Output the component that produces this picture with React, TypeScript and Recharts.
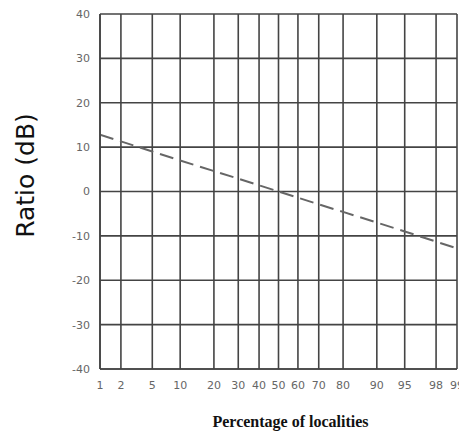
import { LineChart, Line, XAxis, YAxis, CartesianGrid } from 'recharts';

const PERCENTS = [1, 2, 5, 10, 20, 30, 40, 50, 60, 70, 80, 90, 95, 98, 99];
const RATIO_DB = [12.8, 11.3, 9.0, 7.0, 4.6, 2.9, 1.4, 0, -1.4, -2.9, -4.6, -7.0, -9.0, -11.3, -12.8];
const X_TICK_LABELS = PERCENTS;
const Y_TICKS = [-40, -30, -20, -10, 0, 10, 20, 30, 40];

// inverse normal cdf (Acklam) -> normal probability paper x position
const probit = (p: number) => {
  const a = [-39.69683028665376, 220.9460984245205, -275.9285104469687, 138.357751867269, -30.66479806614716, 2.506628277459239];
  const b = [-54.47609879822406, 161.5858368580409, -155.6989798598866, 66.80131188771972, -13.28068155288572];
  const c = [-0.007784894002430293, -0.3223964580411365, -2.400758277161838, -2.549732539343734, 4.374664141464968, 2.938163982698783];
  const d = [0.007784695709041462, 0.3224671290700398, 2.445134137142996, 3.754408661907416];
  const lo = 0.02425;
  if (p < lo) {
    const q = Math.sqrt(-2 * Math.log(p));
    return (((((c[0] * q + c[1]) * q + c[2]) * q + c[3]) * q + c[4]) * q + c[5]) /
      ((((d[0] * q + d[1]) * q + d[2]) * q + d[3]) * q + 1);
  }
  if (p > 1 - lo) return -probit(1 - p);
  const q = p - 0.5;
  const r = q * q;
  return (((((a[0] * r + a[1]) * r + a[2]) * r + a[3]) * r + a[4]) * r + a[5]) * q /
    (((((b[0] * r + b[1]) * r + b[2]) * r + b[3]) * r + b[4]) * r + 1);
};

const data = PERCENTS.map((p, i) => ({ z: probit(p / 100), ratio: RATIO_DB[i] }));
const xTicks = X_TICK_LABELS.map((p) => probit(p / 100));
const labelOf = (z: number) => {
  const i = xTicks.findIndex((t) => Math.abs(t - z) < 1e-6);
  return i >= 0 ? String(X_TICK_LABELS[i]) : '';
};

const GRID = '#444';
const TICK = { fill: '#666', fontSize: 11, fontFamily: 'DejaVu Sans' };

export default function App() {
  return (
    <div style={{ position: 'absolute', left: 0, top: 0, background: '#fff' }}>
      <LineChart
        width={459}
        height={435}
        data={data}
        margin={{ top: 14, right: 2, left: 0, bottom: 0 }}
      >
        <CartesianGrid stroke={GRID} strokeWidth={1.6} />
        <XAxis
          dataKey="z"
          type="number"
          domain={[xTicks[0], xTicks[xTicks.length - 1]]}
          ticks={xTicks}
          interval={0}
          tickFormatter={labelOf}
          tick={TICK}
          tickLine={false}
          axisLine={{ stroke: GRID, strokeWidth: 1.6 }}
          tickMargin={6}
          height={66}
          allowDataOverflow
          label={{
            content: ({ viewBox }: any) => (
              <text
                x={viewBox.x + viewBox.width / 2 + 12}
                y={viewBox.y + 52}
                textAnchor="middle"
                dominantBaseline="central"
                style={{ fontFamily: 'Liberation Serif', fontWeight: 'bold', fontSize: 16, fill: '#111' }}
              >
                Percentage of localities
              </text>
            ),
          }}
        />
        <YAxis
          type="number"
          domain={[-40, 40]}
          ticks={Y_TICKS}
          interval={0}
          tick={TICK}
          tickLine={false}
          axisLine={{ stroke: GRID, strokeWidth: 1.6 }}
          tickMargin={4}
          width={100}
          label={{
            content: ({ viewBox }: any) => {
              const cx = viewBox.x + 25;
              const cy = viewBox.y + viewBox.height / 2 - 16;
              return (
                <text
                  x={cx}
                  y={cy}
                  transform={`rotate(-90, ${cx}, ${cy})`}
                  textAnchor="middle"
                  dominantBaseline="central"
                  style={{ fontFamily: 'DejaVu Sans', fontSize: 25, fill: '#111' }}
                >
                  Ratio (dB)
                </text>
              );
            },
          }}
        />
        <Line
          type="linear"
          dataKey="ratio"
          stroke="#666"
          strokeWidth={2}
          strokeDasharray="14 7"
          dot={false}
          isAnimationActive={false}
        />
      </LineChart>
    </div>
  );
}
